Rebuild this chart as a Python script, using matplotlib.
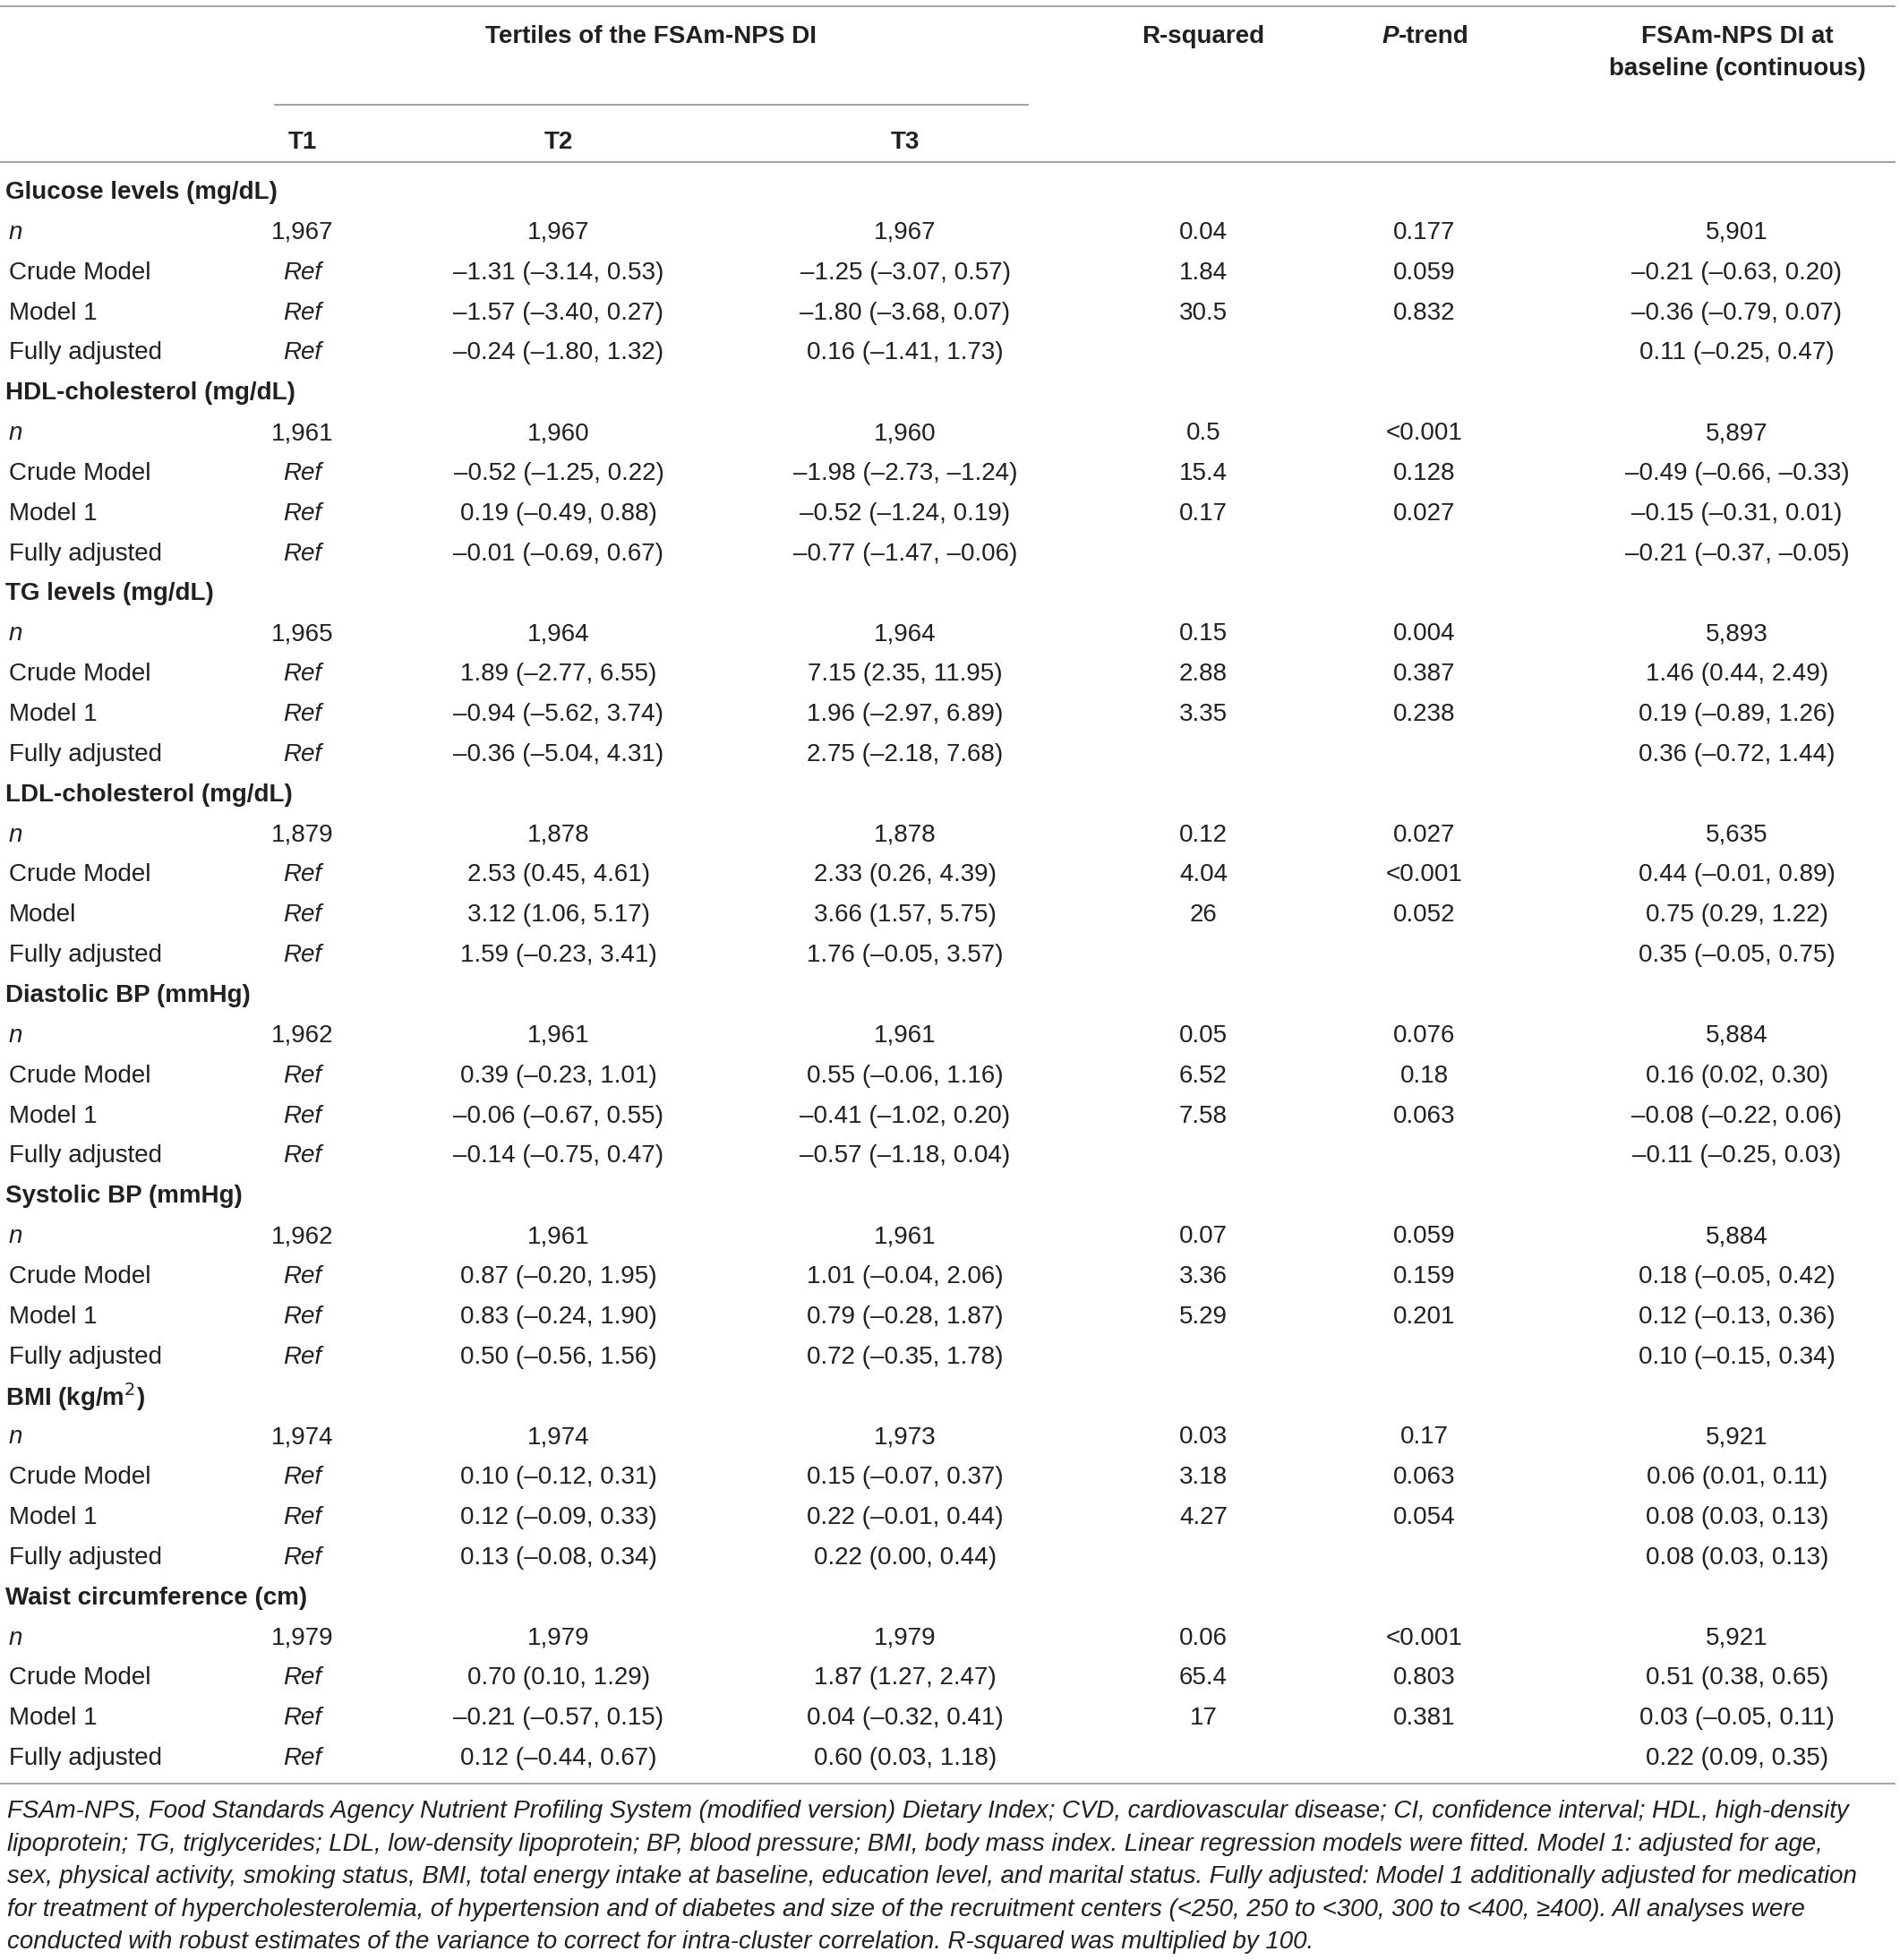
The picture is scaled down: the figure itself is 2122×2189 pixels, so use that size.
import matplotlib.pyplot as plt

plt.rcParams['font.family'] = ['Liberation Sans', 'DejaVu Sans']

groups = ['Glucose levels (mg/dL)', 'HDL-cholesterol (mg/dL)', 'TG levels (mg/dL)',
          'LDL-cholesterol (mg/dL)', 'Diastolic BP (mmHg)', 'Systolic BP (mmHg)',
          'BMI (kg/m$^{2}$)', 'Waist circumference (cm)']

row_labels = [
    ['n', 'Crude Model', 'Model 1', 'Fully adjusted'],
    ['n', 'Crude Model', 'Model 1', 'Fully adjusted'],
    ['n', 'Crude Model', 'Model 1', 'Fully adjusted'],
    ['n', 'Crude Model', 'Model', 'Fully adjusted'],
    ['n', 'Crude Model', 'Model 1', 'Fully adjusted'],
    ['n', 'Crude Model', 'Model 1', 'Fully adjusted'],
    ['n', 'Crude Model', 'Model 1', 'Fully adjusted'],
    ['n', 'Crude Model', 'Model 1', 'Fully adjusted'],
]

n_t1 = ['1,967', '1,961', '1,965', '1,879', '1,962', '1,962', '1,974', '1,979']
n_t2 = ['1,967', '1,960', '1,964', '1,878', '1,961', '1,961', '1,974', '1,979']
n_t3 = ['1,967', '1,960', '1,964', '1,878', '1,961', '1,961', '1,973', '1,979']
n_cont = ['5,901', '5,897', '5,893', '5,635', '5,884', '5,884', '5,921', '5,921']

t2_est = [
    ['–1.31 (–3.14, 0.53)', '–1.57 (–3.40, 0.27)', '–0.24 (–1.80, 1.32)'],
    ['–0.52 (–1.25, 0.22)', '0.19 (–0.49, 0.88)', '–0.01 (–0.69, 0.67)'],
    ['1.89 (–2.77, 6.55)', '–0.94 (–5.62, 3.74)', '–0.36 (–5.04, 4.31)'],
    ['2.53 (0.45, 4.61)', '3.12 (1.06, 5.17)', '1.59 (–0.23, 3.41)'],
    ['0.39 (–0.23, 1.01)', '–0.06 (–0.67, 0.55)', '–0.14 (–0.75, 0.47)'],
    ['0.87 (–0.20, 1.95)', '0.83 (–0.24, 1.90)', '0.50 (–0.56, 1.56)'],
    ['0.10 (–0.12, 0.31)', '0.12 (–0.09, 0.33)', '0.13 (–0.08, 0.34)'],
    ['0.70 (0.10, 1.29)', '–0.21 (–0.57, 0.15)', '0.12 (–0.44, 0.67)'],
]
t3_est = [
    ['–1.25 (–3.07, 0.57)', '–1.80 (–3.68, 0.07)', '0.16 (–1.41, 1.73)'],
    ['–1.98 (–2.73, –1.24)', '–0.52 (–1.24, 0.19)', '–0.77 (–1.47, –0.06)'],
    ['7.15 (2.35, 11.95)', '1.96 (–2.97, 6.89)', '2.75 (–2.18, 7.68)'],
    ['2.33 (0.26, 4.39)', '3.66 (1.57, 5.75)', '1.76 (–0.05, 3.57)'],
    ['0.55 (–0.06, 1.16)', '–0.41 (–1.02, 0.20)', '–0.57 (–1.18, 0.04)'],
    ['1.01 (–0.04, 2.06)', '0.79 (–0.28, 1.87)', '0.72 (–0.35, 1.78)'],
    ['0.15 (–0.07, 0.37)', '0.22 (–0.01, 0.44)', '0.22 (0.00, 0.44)'],
    ['1.87 (1.27, 2.47)', '0.04 (–0.32, 0.41)', '0.60 (0.03, 1.18)'],
]
r_squared = [
    ['0.04', '1.84', '30.5'],
    ['0.5', '15.4', '0.17'],
    ['0.15', '2.88', '3.35'],
    ['0.12', '4.04', '26'],
    ['0.05', '6.52', '7.58'],
    ['0.07', '3.36', '5.29'],
    ['0.03', '3.18', '4.27'],
    ['0.06', '65.4', '17'],
]
p_trend = [
    ['0.177', '0.059', '0.832'],
    ['<0.001', '0.128', '0.027'],
    ['0.004', '0.387', '0.238'],
    ['0.027', '<0.001', '0.052'],
    ['0.076', '0.18', '0.063'],
    ['0.059', '0.159', '0.201'],
    ['0.17', '0.063', '0.054'],
    ['<0.001', '0.803', '0.381'],
]
cont_est = [
    ['–0.21 (–0.63, 0.20)', '–0.36 (–0.79, 0.07)', '0.11 (–0.25, 0.47)'],
    ['–0.49 (–0.66, –0.33)', '–0.15 (–0.31, 0.01)', '–0.21 (–0.37, –0.05)'],
    ['1.46 (0.44, 2.49)', '0.19 (–0.89, 1.26)', '0.36 (–0.72, 1.44)'],
    ['0.44 (–0.01, 0.89)', '0.75 (0.29, 1.22)', '0.35 (–0.05, 0.75)'],
    ['0.16 (0.02, 0.30)', '–0.08 (–0.22, 0.06)', '–0.11 (–0.25, 0.03)'],
    ['0.18 (–0.05, 0.42)', '0.12 (–0.13, 0.36)', '0.10 (–0.15, 0.34)'],
    ['0.06 (0.01, 0.11)', '0.08 (0.03, 0.13)', '0.08 (0.03, 0.13)'],
    ['0.51 (0.38, 0.65)', '0.03 (–0.05, 0.11)', '0.22 (0.09, 0.35)'],
]

footnote = [
    'FSAm-NPS, Food Standards Agency Nutrient Profiling System (modified version) Dietary Index; CVD, cardiovascular disease; CI, confidence interval; HDL, high-density',
    'lipoprotein; TG, triglycerides; LDL, low-density lipoprotein; BP, blood pressure; BMI, body mass index. Linear regression models were fitted. Model 1: adjusted for age,',
    'sex, physical activity, smoking status, BMI, total energy intake at baseline, education level, and marital status. Fully adjusted: Model 1 additionally adjusted for medication',
    'for treatment of hypercholesterolemia, of hypertension and of diabetes and size of the recruitment centers (<250, 250 to <300, 300 to <400, \u2265400). All analyses were',
    'conducted with robust estimates of the variance to correct for intra-cluster correlation. R-squared was multiplied by 100.',
]

W, H = 2122, 2189
fig = plt.figure(figsize=(W / 100, H / 100), dpi=100)
ax = fig.add_axes([0, 0, 1, 1])
ax.set_xlim(0, W)
ax.set_ylim(H, 0)
ax.axis('off')

txt = '#231f20'
line_c = '#9a9a9a'
fs = 20
x_t1, x_t2, x_t3, x_r2, x_p, x_c = 338, 624, 1011, 1344, 1591, 1940

# header
ax.plot([0, 2116], [7, 7], color=line_c, lw=1.3)
ax.plot([307, 1148], [117, 117], color=line_c, lw=1.3)
ax.plot([0, 2116], [181, 181], color=line_c, lw=1.3)
hd = dict(fontsize=fs, fontweight='bold', color=txt, ha='center', va='center')
ax.text(727, 41, 'Tertiles of the FSAm-NPS DI', **hd)
ax.text(x_r2, 41, 'R-squared', **hd)
ax.text(x_p - 29, 41, 'P', fontstyle='italic', fontsize=fs, fontweight='bold',
        color=txt, ha='right', va='center')
ax.text(x_p - 29, 41, '-trend', fontsize=fs, fontweight='bold', color=txt,
        ha='left', va='center')
ax.text(x_c, 41, 'FSAm-NPS DI at', **hd)
ax.text(x_c, 77, 'baseline (continuous)', **hd)
ax.text(x_t1, 159, 'T1', **hd)
ax.text(x_t2, 159, 'T2', **hd)
ax.text(x_t3, 159, 'T3', **hd)

# body
y0, dy = 215, 44.85
cell = dict(fontsize=fs, color=txt, ha='center', va='center')
r = 0
for g in range(len(groups)):
    y = y0 + r * dy
    ax.text(6, y, groups[g], fontsize=fs, fontweight='bold', color=txt,
            ha='left', va='center')
    r += 1
    for k in range(4):
        y = y0 + r * dy
        lab = row_labels[g][k]
        ax.text(10, y, lab, fontsize=fs, color=txt, ha='left', va='center',
                fontstyle='italic' if lab == 'n' else 'normal')
        if k == 0:
            ax.text(x_t1, y, n_t1[g], **cell)
            ax.text(x_t2, y, n_t2[g], **cell)
            ax.text(x_t3, y, n_t3[g], **cell)
            ax.text(x_c, y, n_cont[g], **cell)
        else:
            ax.text(x_t1, y, 'Ref', fontstyle='italic', **cell)
            ax.text(x_t2, y, t2_est[g][k - 1], **cell)
            ax.text(x_t3, y, t3_est[g][k - 1], **cell)
            ax.text(x_c, y, cont_est[g][k - 1], **cell)
        if k < 3:
            ax.text(x_r2, y, r_squared[g][k], **cell)
            ax.text(x_p, y, p_trend[g][k], **cell)
        r += 1

ax.plot([0, 2116], [1992, 1992], color=line_c, lw=1.3)

for i, line in enumerate(footnote):
    ax.text(8, 2023 + i * 36.6, line, fontsize=19.9, fontstyle='italic',
            color=txt, ha='left', va='center')

fig.savefig('out.png', dpi=100)
